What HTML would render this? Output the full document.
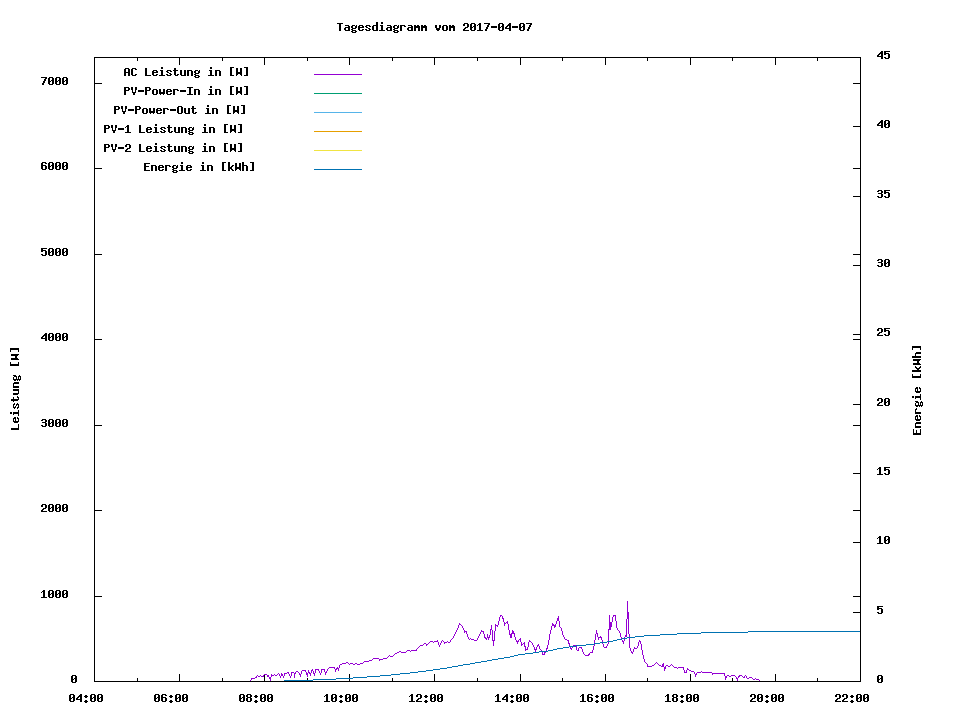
<!DOCTYPE html>
<html><head><meta charset="utf-8"><title>Tagesdiagramm vom 2017-04-07</title>
<style>html,body{margin:0;padding:0;background:#fff;font-family:"Liberation Mono",monospace}svg{display:block}</style>
</head><body>
<svg width="960" height="720" viewBox="0 0 960 720" shape-rendering="crispEdges">
<defs><path id="g45" d="M0 6h6v1h-6zM0 7h6v1h-6z"/><path id="g48" d="M1 3h4v1h-4zM0 4h2v1h-2zM4 4h2v1h-2zM0 5h2v1h-2zM4 5h2v1h-2zM0 6h2v1h-2zM3 6h3v1h-3zM0 7h3v1h-3zM4 7h2v1h-2zM0 8h2v1h-2zM4 8h2v1h-2zM0 9h2v1h-2zM4 9h2v1h-2zM1 10h4v1h-4z"/><path id="g49" d="M2 3h2v1h-2zM1 4h3v1h-3zM0 5h1v1h-1zM2 5h2v1h-2zM2 6h2v1h-2zM2 7h2v1h-2zM2 8h2v1h-2zM2 9h2v1h-2zM0 10h6v1h-6z"/><path id="g50" d="M1 3h4v1h-4zM0 4h2v1h-2zM4 4h2v1h-2zM0 5h2v1h-2zM4 5h2v1h-2zM4 6h2v1h-2zM2 7h3v1h-3zM1 8h2v1h-2zM0 9h2v1h-2zM0 10h6v1h-6z"/><path id="g51" d="M1 3h4v1h-4zM0 4h2v1h-2zM4 4h2v1h-2zM4 5h2v1h-2zM1 6h4v1h-4zM4 7h2v1h-2zM4 8h2v1h-2zM0 9h2v1h-2zM4 9h2v1h-2zM1 10h4v1h-4z"/><path id="g52" d="M4 3h2v1h-2zM3 4h3v1h-3zM2 5h4v1h-4zM1 6h2v1h-2zM4 6h2v1h-2zM0 7h2v1h-2zM4 7h2v1h-2zM0 8h6v1h-6zM4 9h2v1h-2zM4 10h2v1h-2z"/><path id="g53" d="M0 3h6v1h-6zM0 4h2v1h-2zM0 5h5v1h-5zM0 6h2v1h-2zM4 6h2v1h-2zM4 7h2v1h-2zM4 8h2v1h-2zM0 9h2v1h-2zM4 9h2v1h-2zM1 10h4v1h-4z"/><path id="g54" d="M1 3h4v1h-4zM0 4h2v1h-2zM4 4h2v1h-2zM0 5h2v1h-2zM0 6h5v1h-5zM0 7h2v1h-2zM4 7h2v1h-2zM0 8h2v1h-2zM4 8h2v1h-2zM0 9h2v1h-2zM4 9h2v1h-2zM1 10h4v1h-4z"/><path id="g55" d="M0 3h6v1h-6zM4 4h2v1h-2zM3 5h2v1h-2zM3 6h2v1h-2zM2 7h2v1h-2zM2 8h2v1h-2zM1 9h2v1h-2zM1 10h2v1h-2z"/><path id="g56" d="M1 3h4v1h-4zM0 4h2v1h-2zM4 4h2v1h-2zM0 5h2v1h-2zM4 5h2v1h-2zM1 6h4v1h-4zM0 7h2v1h-2zM4 7h2v1h-2zM0 8h2v1h-2zM4 8h2v1h-2zM0 9h2v1h-2zM4 9h2v1h-2zM1 10h4v1h-4z"/><path id="g58" d="M2 4h2v1h-2zM1 5h4v1h-4zM2 6h2v1h-2zM2 9h2v1h-2zM1 10h4v1h-4zM2 11h2v1h-2z"/><path id="g65" d="M1 3h4v1h-4zM0 4h2v1h-2zM4 4h2v1h-2zM0 5h2v1h-2zM4 5h2v1h-2zM0 6h2v1h-2zM4 6h2v1h-2zM0 7h6v1h-6zM0 8h2v1h-2zM4 8h2v1h-2zM0 9h2v1h-2zM4 9h2v1h-2zM0 10h2v1h-2zM4 10h2v1h-2z"/><path id="g67" d="M1 3h4v1h-4zM0 4h2v1h-2zM4 4h2v1h-2zM0 5h2v1h-2zM0 6h2v1h-2zM0 7h2v1h-2zM0 8h2v1h-2zM0 9h2v1h-2zM4 9h2v1h-2zM1 10h4v1h-4z"/><path id="g69" d="M0 3h6v1h-6zM0 4h2v1h-2zM0 5h2v1h-2zM0 6h5v1h-5zM0 7h2v1h-2zM0 8h2v1h-2zM0 9h2v1h-2zM0 10h6v1h-6z"/><path id="g73" d="M0 3h6v1h-6zM2 4h2v1h-2zM2 5h2v1h-2zM2 6h2v1h-2zM2 7h2v1h-2zM2 8h2v1h-2zM2 9h2v1h-2zM0 10h6v1h-6z"/><path id="g76" d="M0 3h2v1h-2zM0 4h2v1h-2zM0 5h2v1h-2zM0 6h2v1h-2zM0 7h2v1h-2zM0 8h2v1h-2zM0 9h2v1h-2zM0 10h6v1h-6z"/><path id="g79" d="M1 3h4v1h-4zM0 4h2v1h-2zM4 4h2v1h-2zM0 5h2v1h-2zM4 5h2v1h-2zM0 6h2v1h-2zM4 6h2v1h-2zM0 7h2v1h-2zM4 7h2v1h-2zM0 8h2v1h-2zM4 8h2v1h-2zM0 9h2v1h-2zM4 9h2v1h-2zM1 10h4v1h-4z"/><path id="g80" d="M0 3h5v1h-5zM0 4h2v1h-2zM4 4h2v1h-2zM0 5h2v1h-2zM4 5h2v1h-2zM0 6h5v1h-5zM0 7h2v1h-2zM0 8h2v1h-2zM0 9h2v1h-2zM0 10h2v1h-2z"/><path id="g84" d="M0 3h6v1h-6zM2 4h2v1h-2zM2 5h2v1h-2zM2 6h2v1h-2zM2 7h2v1h-2zM2 8h2v1h-2zM2 9h2v1h-2zM2 10h2v1h-2z"/><path id="g86" d="M0 3h2v1h-2zM4 3h2v1h-2zM0 4h2v1h-2zM4 4h2v1h-2zM0 5h2v1h-2zM4 5h2v1h-2zM1 6h1v1h-1zM4 6h1v1h-1zM1 7h1v1h-1zM4 7h1v1h-1zM1 8h4v1h-4zM2 9h2v1h-2zM2 10h2v1h-2z"/><path id="g87" d="M0 3h2v1h-2zM4 3h2v1h-2zM0 4h2v1h-2zM4 4h2v1h-2zM0 5h2v1h-2zM4 5h2v1h-2zM0 6h2v1h-2zM4 6h2v1h-2zM0 7h6v1h-6zM0 8h6v1h-6zM0 9h2v1h-2zM4 9h2v1h-2zM0 10h1v1h-1zM5 10h1v1h-1z"/><path id="g91" d="M1 2h4v1h-4zM1 3h2v1h-2zM1 4h2v1h-2zM1 5h2v1h-2zM1 6h2v1h-2zM1 7h2v1h-2zM1 8h2v1h-2zM1 9h2v1h-2zM1 10h4v1h-4z"/><path id="g93" d="M1 2h4v1h-4zM3 3h2v1h-2zM3 4h2v1h-2zM3 5h2v1h-2zM3 6h2v1h-2zM3 7h2v1h-2zM3 8h2v1h-2zM3 9h2v1h-2zM1 10h4v1h-4z"/><path id="g97" d="M1 5h4v1h-4zM4 6h2v1h-2zM1 7h5v1h-5zM0 8h2v1h-2zM4 8h2v1h-2zM0 9h2v1h-2zM4 9h2v1h-2zM1 10h5v1h-5z"/><path id="g100" d="M4 2h2v1h-2zM4 3h2v1h-2zM4 4h2v1h-2zM1 5h5v1h-5zM0 6h2v1h-2zM4 6h2v1h-2zM0 7h2v1h-2zM4 7h2v1h-2zM0 8h2v1h-2zM4 8h2v1h-2zM0 9h2v1h-2zM4 9h2v1h-2zM1 10h5v1h-5z"/><path id="g101" d="M1 5h4v1h-4zM0 6h2v1h-2zM4 6h2v1h-2zM0 7h6v1h-6zM0 8h2v1h-2zM0 9h2v1h-2zM4 9h2v1h-2zM1 10h4v1h-4z"/><path id="g103" d="M1 5h3v1h-3zM5 5h1v1h-1zM0 6h2v1h-2zM4 6h2v1h-2zM0 7h2v1h-2zM4 7h2v1h-2zM1 8h4v1h-4zM0 9h2v1h-2zM1 10h4v1h-4zM0 11h2v1h-2zM4 11h2v1h-2zM1 12h4v1h-4z"/><path id="g104" d="M0 2h2v1h-2zM0 3h2v1h-2zM0 4h2v1h-2zM0 5h5v1h-5zM0 6h2v1h-2zM4 6h2v1h-2zM0 7h2v1h-2zM4 7h2v1h-2zM0 8h2v1h-2zM4 8h2v1h-2zM0 9h2v1h-2zM4 9h2v1h-2zM0 10h2v1h-2zM4 10h2v1h-2z"/><path id="g105" d="M2 2h2v1h-2zM2 3h2v1h-2zM1 5h3v1h-3zM2 6h2v1h-2zM2 7h2v1h-2zM2 8h2v1h-2zM2 9h2v1h-2zM0 10h6v1h-6z"/><path id="g107" d="M0 2h2v1h-2zM0 3h2v1h-2zM0 4h2v1h-2zM0 5h2v1h-2zM4 5h2v1h-2zM0 6h2v1h-2zM3 6h2v1h-2zM0 7h4v1h-4zM0 8h4v1h-4zM0 9h2v1h-2zM3 9h2v1h-2zM0 10h2v1h-2zM4 10h2v1h-2z"/><path id="g109" d="M0 5h2v1h-2zM3 5h2v1h-2zM0 6h6v1h-6zM0 7h6v1h-6zM0 8h2v1h-2zM4 8h2v1h-2zM0 9h2v1h-2zM4 9h2v1h-2zM0 10h2v1h-2zM4 10h2v1h-2z"/><path id="g110" d="M0 5h5v1h-5zM0 6h2v1h-2zM4 6h2v1h-2zM0 7h2v1h-2zM4 7h2v1h-2zM0 8h2v1h-2zM4 8h2v1h-2zM0 9h2v1h-2zM4 9h2v1h-2zM0 10h2v1h-2zM4 10h2v1h-2z"/><path id="g111" d="M1 5h4v1h-4zM0 6h2v1h-2zM4 6h2v1h-2zM0 7h2v1h-2zM4 7h2v1h-2zM0 8h2v1h-2zM4 8h2v1h-2zM0 9h2v1h-2zM4 9h2v1h-2zM1 10h4v1h-4z"/><path id="g114" d="M0 5h5v1h-5zM0 6h2v1h-2zM4 6h2v1h-2zM0 7h2v1h-2zM0 8h2v1h-2zM0 9h2v1h-2zM0 10h2v1h-2z"/><path id="g115" d="M1 5h4v1h-4zM0 6h2v1h-2zM4 6h2v1h-2zM1 7h2v1h-2zM3 8h2v1h-2zM0 9h2v1h-2zM4 9h2v1h-2zM1 10h4v1h-4z"/><path id="g116" d="M1 3h2v1h-2zM1 4h2v1h-2zM0 5h5v1h-5zM1 6h2v1h-2zM1 7h2v1h-2zM1 8h2v1h-2zM1 9h2v1h-2zM4 9h2v1h-2zM2 10h3v1h-3z"/><path id="g117" d="M0 5h2v1h-2zM4 5h2v1h-2zM0 6h2v1h-2zM4 6h2v1h-2zM0 7h2v1h-2zM4 7h2v1h-2zM0 8h2v1h-2zM4 8h2v1h-2zM0 9h2v1h-2zM4 9h2v1h-2zM1 10h5v1h-5z"/><path id="g118" d="M0 5h2v1h-2zM4 5h2v1h-2zM0 6h2v1h-2zM4 6h2v1h-2zM0 7h2v1h-2zM4 7h2v1h-2zM1 8h4v1h-4zM1 9h4v1h-4zM2 10h2v1h-2z"/><path id="g119" d="M0 5h2v1h-2zM4 5h2v1h-2zM0 6h2v1h-2zM4 6h2v1h-2zM0 7h2v1h-2zM4 7h2v1h-2zM0 8h6v1h-6zM0 9h6v1h-6zM1 10h1v1h-1zM4 10h1v1h-1z"/></defs>
<rect width="960" height="720" fill="#fff"/>
<g fill="#000">
<use href="#g84" x="337" y="20"/>
<use href="#g97" x="344" y="20"/>
<use href="#g103" x="351" y="20"/>
<use href="#g101" x="358" y="20"/>
<use href="#g115" x="365" y="20"/>
<use href="#g100" x="372" y="20"/>
<use href="#g105" x="379" y="20"/>
<use href="#g97" x="386" y="20"/>
<use href="#g103" x="393" y="20"/>
<use href="#g114" x="400" y="20"/>
<use href="#g97" x="407" y="20"/>
<use href="#g109" x="414" y="20"/>
<use href="#g109" x="421" y="20"/>
<use href="#g118" x="435" y="20"/>
<use href="#g111" x="442" y="20"/>
<use href="#g109" x="449" y="20"/>
<use href="#g50" x="463" y="20"/>
<use href="#g48" x="470" y="20"/>
<use href="#g49" x="477" y="20"/>
<use href="#g55" x="484" y="20"/>
<use href="#g45" x="491" y="20"/>
<use href="#g48" x="498" y="20"/>
<use href="#g52" x="505" y="20"/>
<use href="#g45" x="512" y="20"/>
<use href="#g48" x="519" y="20"/>
<use href="#g55" x="526" y="20"/>
<use href="#g48" x="71" y="672"/>
<use href="#g49" x="41" y="587"/>
<use href="#g48" x="48" y="587"/>
<use href="#g48" x="55" y="587"/>
<use href="#g48" x="62" y="587"/>
<use href="#g50" x="41" y="501"/>
<use href="#g48" x="48" y="501"/>
<use href="#g48" x="55" y="501"/>
<use href="#g48" x="62" y="501"/>
<use href="#g51" x="41" y="416"/>
<use href="#g48" x="48" y="416"/>
<use href="#g48" x="55" y="416"/>
<use href="#g48" x="62" y="416"/>
<use href="#g52" x="41" y="330"/>
<use href="#g48" x="48" y="330"/>
<use href="#g48" x="55" y="330"/>
<use href="#g48" x="62" y="330"/>
<use href="#g53" x="41" y="245"/>
<use href="#g48" x="48" y="245"/>
<use href="#g48" x="55" y="245"/>
<use href="#g48" x="62" y="245"/>
<use href="#g54" x="41" y="159"/>
<use href="#g48" x="48" y="159"/>
<use href="#g48" x="55" y="159"/>
<use href="#g48" x="62" y="159"/>
<use href="#g55" x="41" y="74"/>
<use href="#g48" x="48" y="74"/>
<use href="#g48" x="55" y="74"/>
<use href="#g48" x="62" y="74"/>
<use href="#g48" x="877" y="672"/>
<use href="#g53" x="877" y="603"/>
<use href="#g49" x="877" y="533"/>
<use href="#g48" x="884" y="533"/>
<use href="#g49" x="877" y="464"/>
<use href="#g53" x="884" y="464"/>
<use href="#g50" x="877" y="395"/>
<use href="#g48" x="884" y="395"/>
<use href="#g50" x="877" y="325"/>
<use href="#g53" x="884" y="325"/>
<use href="#g51" x="877" y="256"/>
<use href="#g48" x="884" y="256"/>
<use href="#g51" x="877" y="187"/>
<use href="#g53" x="884" y="187"/>
<use href="#g52" x="877" y="117"/>
<use href="#g48" x="884" y="117"/>
<use href="#g52" x="877" y="48"/>
<use href="#g53" x="884" y="48"/>
<use href="#g48" x="69" y="691"/>
<use href="#g52" x="76" y="691"/>
<use href="#g58" x="83" y="691"/>
<use href="#g48" x="90" y="691"/>
<use href="#g48" x="97" y="691"/>
<use href="#g48" x="154" y="691"/>
<use href="#g54" x="161" y="691"/>
<use href="#g58" x="168" y="691"/>
<use href="#g48" x="175" y="691"/>
<use href="#g48" x="182" y="691"/>
<use href="#g48" x="239" y="691"/>
<use href="#g56" x="246" y="691"/>
<use href="#g58" x="253" y="691"/>
<use href="#g48" x="260" y="691"/>
<use href="#g48" x="267" y="691"/>
<use href="#g49" x="324" y="691"/>
<use href="#g48" x="331" y="691"/>
<use href="#g58" x="338" y="691"/>
<use href="#g48" x="345" y="691"/>
<use href="#g48" x="352" y="691"/>
<use href="#g49" x="409" y="691"/>
<use href="#g50" x="416" y="691"/>
<use href="#g58" x="423" y="691"/>
<use href="#g48" x="430" y="691"/>
<use href="#g48" x="437" y="691"/>
<use href="#g49" x="495" y="691"/>
<use href="#g52" x="502" y="691"/>
<use href="#g58" x="509" y="691"/>
<use href="#g48" x="516" y="691"/>
<use href="#g48" x="523" y="691"/>
<use href="#g49" x="580" y="691"/>
<use href="#g54" x="587" y="691"/>
<use href="#g58" x="594" y="691"/>
<use href="#g48" x="601" y="691"/>
<use href="#g48" x="608" y="691"/>
<use href="#g49" x="665" y="691"/>
<use href="#g56" x="672" y="691"/>
<use href="#g58" x="679" y="691"/>
<use href="#g48" x="686" y="691"/>
<use href="#g48" x="693" y="691"/>
<use href="#g50" x="750" y="691"/>
<use href="#g48" x="757" y="691"/>
<use href="#g58" x="764" y="691"/>
<use href="#g48" x="771" y="691"/>
<use href="#g48" x="778" y="691"/>
<use href="#g50" x="835" y="691"/>
<use href="#g50" x="842" y="691"/>
<use href="#g58" x="849" y="691"/>
<use href="#g48" x="856" y="691"/>
<use href="#g48" x="863" y="691"/>
<use href="#g65" x="124" y="65"/>
<use href="#g67" x="131" y="65"/>
<use href="#g76" x="145" y="65"/>
<use href="#g101" x="152" y="65"/>
<use href="#g105" x="159" y="65"/>
<use href="#g115" x="166" y="65"/>
<use href="#g116" x="173" y="65"/>
<use href="#g117" x="180" y="65"/>
<use href="#g110" x="187" y="65"/>
<use href="#g103" x="194" y="65"/>
<use href="#g105" x="208" y="65"/>
<use href="#g110" x="215" y="65"/>
<use href="#g91" x="229" y="65"/>
<use href="#g87" x="236" y="65"/>
<use href="#g93" x="243" y="65"/>
<use href="#g80" x="124" y="84"/>
<use href="#g86" x="131" y="84"/>
<use href="#g45" x="138" y="84"/>
<use href="#g80" x="145" y="84"/>
<use href="#g111" x="152" y="84"/>
<use href="#g119" x="159" y="84"/>
<use href="#g101" x="166" y="84"/>
<use href="#g114" x="173" y="84"/>
<use href="#g45" x="180" y="84"/>
<use href="#g73" x="187" y="84"/>
<use href="#g110" x="194" y="84"/>
<use href="#g105" x="208" y="84"/>
<use href="#g110" x="215" y="84"/>
<use href="#g91" x="229" y="84"/>
<use href="#g87" x="236" y="84"/>
<use href="#g93" x="243" y="84"/>
<use href="#g80" x="114" y="103"/>
<use href="#g86" x="121" y="103"/>
<use href="#g45" x="128" y="103"/>
<use href="#g80" x="135" y="103"/>
<use href="#g111" x="142" y="103"/>
<use href="#g119" x="149" y="103"/>
<use href="#g101" x="156" y="103"/>
<use href="#g114" x="163" y="103"/>
<use href="#g45" x="170" y="103"/>
<use href="#g79" x="177" y="103"/>
<use href="#g117" x="184" y="103"/>
<use href="#g116" x="191" y="103"/>
<use href="#g105" x="205" y="103"/>
<use href="#g110" x="212" y="103"/>
<use href="#g91" x="226" y="103"/>
<use href="#g87" x="233" y="103"/>
<use href="#g93" x="240" y="103"/>
<use href="#g80" x="104" y="122"/>
<use href="#g86" x="111" y="122"/>
<use href="#g45" x="118" y="122"/>
<use href="#g49" x="125" y="122"/>
<use href="#g76" x="139" y="122"/>
<use href="#g101" x="146" y="122"/>
<use href="#g105" x="153" y="122"/>
<use href="#g115" x="160" y="122"/>
<use href="#g116" x="167" y="122"/>
<use href="#g117" x="174" y="122"/>
<use href="#g110" x="181" y="122"/>
<use href="#g103" x="188" y="122"/>
<use href="#g105" x="202" y="122"/>
<use href="#g110" x="209" y="122"/>
<use href="#g91" x="223" y="122"/>
<use href="#g87" x="230" y="122"/>
<use href="#g93" x="237" y="122"/>
<use href="#g80" x="104" y="141"/>
<use href="#g86" x="111" y="141"/>
<use href="#g45" x="118" y="141"/>
<use href="#g50" x="125" y="141"/>
<use href="#g76" x="139" y="141"/>
<use href="#g101" x="146" y="141"/>
<use href="#g105" x="153" y="141"/>
<use href="#g115" x="160" y="141"/>
<use href="#g116" x="167" y="141"/>
<use href="#g117" x="174" y="141"/>
<use href="#g110" x="181" y="141"/>
<use href="#g103" x="188" y="141"/>
<use href="#g105" x="202" y="141"/>
<use href="#g110" x="209" y="141"/>
<use href="#g91" x="223" y="141"/>
<use href="#g87" x="230" y="141"/>
<use href="#g93" x="237" y="141"/>
<use href="#g69" x="144" y="160"/>
<use href="#g110" x="151" y="160"/>
<use href="#g101" x="158" y="160"/>
<use href="#g114" x="165" y="160"/>
<use href="#g103" x="172" y="160"/>
<use href="#g105" x="179" y="160"/>
<use href="#g101" x="186" y="160"/>
<use href="#g105" x="200" y="160"/>
<use href="#g110" x="207" y="160"/>
<use href="#g91" x="221" y="160"/>
<use href="#g107" x="228" y="160"/>
<use href="#g87" x="235" y="160"/>
<use href="#g104" x="242" y="160"/>
<use href="#g93" x="249" y="160"/>
<use href="#g76" transform="translate(8,430) rotate(-90)"/>
<use href="#g101" transform="translate(8,423) rotate(-90)"/>
<use href="#g105" transform="translate(8,416) rotate(-90)"/>
<use href="#g115" transform="translate(8,409) rotate(-90)"/>
<use href="#g116" transform="translate(8,402) rotate(-90)"/>
<use href="#g117" transform="translate(8,395) rotate(-90)"/>
<use href="#g110" transform="translate(8,388) rotate(-90)"/>
<use href="#g103" transform="translate(8,381) rotate(-90)"/>
<use href="#g91" transform="translate(8,367) rotate(-90)"/>
<use href="#g87" transform="translate(8,360) rotate(-90)"/>
<use href="#g93" transform="translate(8,353) rotate(-90)"/>
<use href="#g69" transform="translate(910,435) rotate(-90)"/>
<use href="#g110" transform="translate(910,428) rotate(-90)"/>
<use href="#g101" transform="translate(910,421) rotate(-90)"/>
<use href="#g114" transform="translate(910,414) rotate(-90)"/>
<use href="#g103" transform="translate(910,407) rotate(-90)"/>
<use href="#g105" transform="translate(910,400) rotate(-90)"/>
<use href="#g101" transform="translate(910,393) rotate(-90)"/>
<use href="#g91" transform="translate(910,379) rotate(-90)"/>
<use href="#g107" transform="translate(910,372) rotate(-90)"/>
<use href="#g87" transform="translate(910,365) rotate(-90)"/>
<use href="#g104" transform="translate(910,358) rotate(-90)"/>
<use href="#g93" transform="translate(910,351) rotate(-90)"/>
</g>
<rect x="314" y="74" width="48" height="1" fill="#9400d3"/>
<rect x="314" y="93" width="48" height="1" fill="#009e73"/>
<rect x="314" y="112" width="48" height="1" fill="#56b4e9"/>
<rect x="314" y="131" width="48" height="1" fill="#e69f00"/>
<rect x="314" y="150" width="48" height="1" fill="#f0e442"/>
<rect x="314" y="169" width="48" height="1" fill="#0072b2"/>
<path fill="#000" d="M94 681h8v1h-8zM853 681h8v1h-8zM94 596h8v1h-8zM853 596h8v1h-8zM94 510h8v1h-8zM853 510h8v1h-8zM94 425h8v1h-8zM853 425h8v1h-8zM94 339h8v1h-8zM853 339h8v1h-8zM94 254h8v1h-8zM853 254h8v1h-8zM94 168h8v1h-8zM853 168h8v1h-8zM94 83h8v1h-8zM853 83h8v1h-8zM853 681h8v1h-8zM853 612h8v1h-8zM853 542h8v1h-8zM853 473h8v1h-8zM853 404h8v1h-8zM853 334h8v1h-8zM853 265h8v1h-8zM853 196h8v1h-8zM853 126h8v1h-8zM853 57h8v1h-8zM94 674h1v8h-1zM94 57h1v8h-1zM137 678h1v4h-1zM137 57h1v4h-1zM179 674h1v8h-1zM179 57h1v8h-1zM222 678h1v4h-1zM222 57h1v4h-1zM264 674h1v8h-1zM264 57h1v8h-1zM307 678h1v4h-1zM307 57h1v4h-1zM349 674h1v8h-1zM349 57h1v8h-1zM392 678h1v4h-1zM392 57h1v4h-1zM434 674h1v8h-1zM434 57h1v8h-1zM477 678h1v4h-1zM477 57h1v4h-1zM520 674h1v8h-1zM520 57h1v8h-1zM562 678h1v4h-1zM562 57h1v4h-1zM605 674h1v8h-1zM605 57h1v8h-1zM647 678h1v4h-1zM647 57h1v4h-1zM690 674h1v8h-1zM690 57h1v8h-1zM732 678h1v4h-1zM732 57h1v4h-1zM775 674h1v8h-1zM775 57h1v8h-1zM817 678h1v4h-1zM817 57h1v4h-1zM860 674h1v8h-1zM860 57h1v8h-1z"/>
<path fill="#9400d3" d="M250 680h1v1h-1zM251 678h1v2h-1zM252 678h3v1h-3zM255 677h1v1h-1zM256 676h1v2h-1zM257 675h1v1h-1zM258 676h2v1h-2zM260 675h1v1h-1zM261 676h2v1h-2zM263 675h1v2h-1zM264 674h3v1h-3zM267 675h2v2h-2zM269 677h1v2h-1zM270 677h1v4h-1zM271 674h1v3h-1zM272 675h2v1h-2zM274 674h1v1h-1zM275 675h2v1h-2zM277 674h1v1h-1zM278 673h1v1h-1zM279 674h1v2h-1zM280 676h1v2h-1zM281 673h1v3h-1zM282 674h1v2h-1zM283 676h1v2h-1zM284 673h1v3h-1zM285 673h2v1h-2zM287 672h1v1h-1zM288 672h1v2h-1zM289 674h1v2h-1zM290 676h1v2h-1zM291 672h1v4h-1zM292 672h2v1h-2zM294 673h1v5h-1zM295 672h1v2h-1zM296 671h2v1h-2zM298 672h1v1h-1zM299 673h1v2h-1zM300 674h1v3h-1zM301 671h1v3h-1zM302 670h3v1h-3zM305 670h1v2h-1zM306 672h1v3h-1zM307 673h1v4h-1zM308 670h1v3h-1zM309 672h1v2h-1zM310 673h1v3h-1zM311 670h1v3h-1zM312 669h1v2h-1zM313 671h1v3h-1zM314 673h1v3h-1zM315 669h1v4h-1zM316 669h2v1h-2zM318 669h1v2h-1zM319 671h1v2h-1zM320 673h1v2h-1zM321 669h1v4h-1zM322 669h2v1h-2zM324 669h1v3h-1zM325 672h1v3h-1zM326 671h1v2h-1zM327 669h1v2h-1zM328 668h1v1h-1zM329 667h5v1h-5zM334 667h1v2h-1zM335 669h1v3h-1zM336 668h1v2h-1zM337 667h1v2h-1zM338 668h1v3h-1zM339 665h1v3h-1zM340 664h2v1h-2zM342 663h4v1h-4zM346 662h2v1h-2zM348 663h1v1h-1zM349 664h1v1h-1zM350 663h3v1h-3zM353 664h2v1h-2zM355 663h2v1h-2zM357 664h3v1h-3zM360 663h3v1h-3zM363 662h1v1h-1zM364 661h5v1h-5zM369 660h3v1h-3zM372 659h1v1h-1zM373 658h6v1h-6zM379 659h1v2h-1zM380 659h3v1h-3zM383 658h4v1h-4zM387 657h1v1h-1zM388 656h1v1h-1zM389 655h1v1h-1zM390 656h3v1h-3zM393 655h1v1h-1zM394 654h1v1h-1zM395 653h2v1h-2zM397 652h2v1h-2zM399 651h2v1h-2zM401 652h5v1h-5zM406 651h1v1h-1zM407 650h3v1h-3zM410 651h1v1h-1zM411 650h5v1h-5zM416 649h1v2h-1zM417 648h1v1h-1zM418 647h1v1h-1zM419 646h1v1h-1zM420 645h3v1h-3zM423 644h1v1h-1zM424 643h2v1h-2zM426 644h1v2h-1zM427 644h1v1h-1zM428 643h1v1h-1zM429 642h1v1h-1zM430 641h3v1h-3zM433 642h1v1h-1zM434 641h3v1h-3zM437 640h1v2h-1zM438 642h1v3h-1zM439 645h1v2h-1zM440 643h1v2h-1zM441 641h1v2h-1zM442 640h1v1h-1zM443 641h1v1h-1zM444 642h1v2h-1zM445 642h2v1h-2zM447 641h1v1h-1zM448 642h2v1h-2zM450 640h1v2h-1zM451 639h1v1h-1zM452 638h1v1h-1zM453 636h1v2h-1zM454 634h1v2h-1zM455 632h1v2h-1zM456 630h1v2h-1zM457 628h1v2h-1zM458 625h1v3h-1zM459 623h1v2h-1zM460 624h1v1h-1zM461 625h1v1h-1zM462 626h1v2h-1zM463 628h1v2h-1zM464 630h1v3h-1zM465 631h1v1h-1zM466 631h1v3h-1zM467 634h1v3h-1zM468 637h1v2h-1zM469 639h1v1h-1zM470 638h1v1h-1zM471 639h3v1h-3zM474 640h3v1h-3zM477 638h1v2h-1zM478 636h1v2h-1zM479 634h1v2h-1zM480 632h1v2h-1zM481 630h1v2h-1zM482 631h1v1h-1zM483 631h1v3h-1zM484 634h1v4h-1zM485 637h1v2h-1zM486 638h1v2h-1zM487 634h1v4h-1zM488 637h1v3h-1zM489 635h1v3h-1zM490 629h1v6h-1zM491 625h1v5h-1zM492 630h1v11h-1zM493 640h1v6h-1zM494 631h1v10h-1zM495 624h1v7h-1zM496 625h1v1h-1zM497 625h1v2h-1zM498 621h1v4h-1zM499 617h1v4h-1zM500 615h1v2h-1zM501 615h1v1h-1zM502 616h1v3h-1zM503 618h1v4h-1zM504 622h1v4h-1zM505 623h1v1h-1zM506 622h1v1h-1zM507 621h1v3h-1zM508 624h1v6h-1zM509 630h1v5h-1zM510 634h1v4h-1zM511 633h1v5h-1zM512 630h1v4h-1zM513 631h1v3h-1zM514 633h1v4h-1zM515 637h1v3h-1zM516 640h1v2h-1zM517 641h1v3h-1zM518 640h1v2h-1zM519 639h1v1h-1zM520 638h1v4h-1zM521 642h1v4h-1zM522 644h1v1h-1zM523 643h1v1h-1zM524 642h1v5h-1zM525 646h1v5h-1zM526 649h1v1h-1zM527 647h1v3h-1zM528 642h1v5h-1zM529 640h1v2h-1zM530 641h1v1h-1zM531 642h1v1h-1zM532 643h1v2h-1zM533 645h1v2h-1zM534 647h1v3h-1zM535 649h1v3h-1zM536 647h1v3h-1zM537 645h1v2h-1zM538 644h1v2h-1zM539 646h1v3h-1zM540 649h1v1h-1zM541 650h1v2h-1zM542 651h1v4h-1zM543 654h1v1h-1zM544 652h1v3h-1zM545 651h1v2h-1zM546 648h1v3h-1zM547 645h1v4h-1zM548 640h1v5h-1zM549 634h1v6h-1zM550 630h1v4h-1zM551 626h1v4h-1zM552 623h1v3h-1zM553 624h1v2h-1zM554 625h1v3h-1zM555 624h1v3h-1zM556 621h1v3h-1zM557 618h1v3h-1zM558 616h1v5h-1zM559 621h1v6h-1zM560 627h1v1h-1zM561 628h1v3h-1zM562 631h1v4h-1zM563 635h1v2h-1zM564 637h1v2h-1zM565 639h2v1h-2zM567 640h1v1h-1zM568 640h1v4h-1zM569 643h1v4h-1zM570 647h1v2h-1zM571 648h1v2h-1zM572 646h1v2h-1zM573 645h3v1h-3zM576 646h1v4h-1zM577 650h1v1h-1zM578 648h1v3h-1zM579 647h2v1h-2zM581 647h1v2h-1zM582 649h1v3h-1zM583 652h1v2h-1zM584 654h1v1h-1zM585 655h3v1h-3zM588 654h1v2h-1zM589 653h1v2h-1zM590 652h2v1h-2zM592 650h1v3h-1zM593 646h1v4h-1zM594 640h1v6h-1zM595 634h1v6h-1zM596 630h1v4h-1zM597 633h1v4h-1zM598 637h1v3h-1zM599 637h1v1h-1zM600 636h1v2h-1zM601 637h1v3h-1zM602 640h1v4h-1zM603 644h1v3h-1zM604 647h2v1h-2zM606 646h1v2h-1zM607 644h1v2h-1zM608 629h1v15h-1zM609 615h1v15h-1zM610 622h1v8h-1zM611 622h1v5h-1zM612 617h1v5h-1zM613 615h1v2h-1zM614 615h1v1h-1zM615 615h1v6h-1zM616 621h1v7h-1zM617 628h1v2h-1zM618 630h1v1h-1zM619 631h1v2h-1zM620 633h1v4h-1zM621 637h1v3h-1zM622 640h1v2h-1zM623 641h1v3h-1zM624 637h1v4h-1zM625 635h1v2h-1zM626 619h1v18h-1zM627 601h1v18h-1zM628 612h1v22h-1zM629 634h1v14h-1zM630 648h1v3h-1zM631 651h1v2h-1zM632 652h1v2h-1zM633 649h1v3h-1zM634 647h1v2h-1zM635 648h2v1h-2zM637 646h1v2h-1zM638 642h1v4h-1zM639 640h1v2h-1zM640 641h1v3h-1zM641 644h1v6h-1zM642 650h1v5h-1zM643 655h1v4h-1zM644 659h1v3h-1zM645 662h1v1h-1zM646 663h1v1h-1zM647 664h1v3h-1zM648 666h4v1h-4zM652 665h2v1h-2zM654 664h1v1h-1zM655 663h1v1h-1zM656 662h1v1h-1zM657 663h1v1h-1zM658 664h1v1h-1zM659 665h2v1h-2zM661 666h1v1h-1zM662 664h1v3h-1zM663 663h1v4h-1zM664 667h1v4h-1zM665 666h1v3h-1zM666 665h2v1h-2zM668 666h2v1h-2zM670 665h1v1h-1zM671 664h1v1h-1zM672 665h1v1h-1zM673 666h1v1h-1zM674 667h3v1h-3zM677 668h1v1h-1zM678 667h5v1h-5zM683 667h1v3h-1zM684 670h1v3h-1zM685 672h1v1h-1zM686 670h1v3h-1zM687 668h1v2h-1zM688 669h1v1h-1zM689 670h2v1h-2zM691 671h3v1h-3zM694 672h1v2h-1zM695 674h1v3h-1zM696 673h1v2h-1zM697 672h4v1h-4zM701 671h1v1h-1zM702 672h10v1h-10zM712 673h1v2h-1zM713 673h11v1h-11zM724 673h1v3h-1zM725 676h1v4h-1zM726 676h1v2h-1zM727 675h2v1h-2zM729 676h2v1h-2zM731 675h4v1h-4zM735 676h1v1h-1zM736 677h1v2h-1zM737 678h1v3h-1zM738 676h1v2h-1zM739 675h1v2h-1zM740 675h2v1h-2zM742 676h1v1h-1zM743 677h1v1h-1zM744 676h1v2h-1zM745 675h1v1h-1zM746 676h1v2h-1zM747 678h2v1h-2zM749 677h3v1h-3zM752 678h1v1h-1zM753 679h2v1h-2zM755 678h1v1h-1zM756 679h3v1h-3zM759 680h1v1h-1z"/>
<path fill="#0072b2" d="M284 680h29v1h-29zM313 679h23v1h-23zM336 678h17v1h-17zM353 677h14v1h-14zM367 676h13v1h-13zM380 675h11v1h-11zM391 674h9v1h-9zM400 673h10v1h-10zM410 672h8v1h-8zM418 671h8v1h-8zM426 670h7v1h-7zM433 669h7v1h-7zM440 668h7v1h-7zM447 667h5v1h-5zM452 666h6v1h-6zM458 665h5v1h-5zM463 664h7v1h-7zM470 663h5v1h-5zM475 662h6v1h-6zM481 661h6v1h-6zM487 660h5v1h-5zM492 659h6v1h-6zM498 658h6v1h-6zM504 657h6v1h-6zM510 656h4v1h-4zM514 655h4v1h-4zM518 654h7v1h-7zM525 653h8v1h-8zM533 652h6v1h-6zM539 651h9v1h-9zM548 650h5v1h-5zM553 649h4v1h-4zM557 648h6v1h-6zM563 647h6v1h-6zM569 646h7v1h-7zM576 645h10v1h-10zM586 644h8v1h-8zM594 643h6v1h-6zM600 642h7v1h-7zM607 641h6v1h-6zM613 640h4v1h-4zM617 639h5v1h-5zM622 638h5v1h-5zM627 637h8v1h-8zM635 636h9v1h-9zM644 635h16v1h-16zM660 634h17v1h-17zM677 633h24v1h-24zM701 632h47v1h-47zM748 631h113v1h-113z"/>
<path fill="#000" d="M94 57h767v1h-767zM94 681h767v1h-767zM94 57h1v625h-1zM860 57h1v625h-1z"/>
</svg>
</body></html>
